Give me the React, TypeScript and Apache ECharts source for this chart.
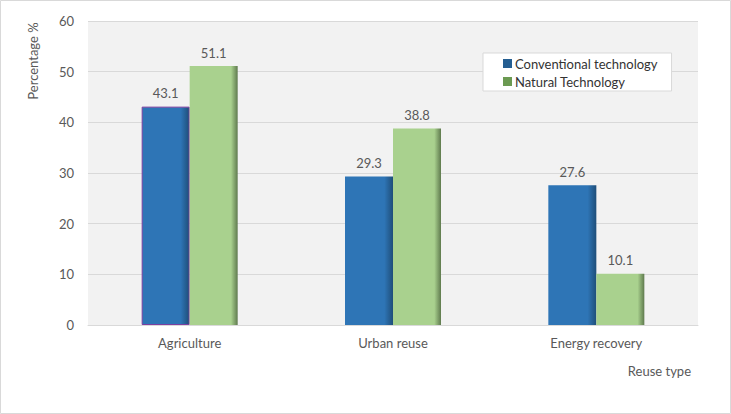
import React, { useEffect, useRef } from "react";
import * as echarts from "echarts";

const categories = ["Agriculture", "Urban reuse", "Energy recovery"];
const conventional = [43.1, 29.3, 27.6];
const natural = [51.1, 38.8, 10.1];
const seriesNames = ["Conventional technology", "Natural Technology"];
const yTicks = { min: 0, max: 60, interval: 10 };

const FONT = "Lato, 'Noto Sans', sans-serif";
const TXT = "#595959";

export default function App() {
  const ref = useRef<HTMLDivElement>(null);
  useEffect(() => {
    if (!ref.current) return;
    const chart = echarts.init(ref.current, undefined, { renderer: "svg" });
    const blueGrad = new echarts.graphic.LinearGradient(0, 0, 1, 0, [
      { offset: 0, color: "#2E75B6" },
      { offset: 0.82, color: "#2E75B6" },
      { offset: 1, color: "#1F4E79" },
    ]);
    const greenGrad = new echarts.graphic.LinearGradient(0, 0, 1, 0, [
      { offset: 0, color: "#A9D18E" },
      { offset: 0.86, color: "#A9D18E" },
      { offset: 1, color: "#5F7A4E" },
    ]);
    const label = {
      show: true,
      position: "top",
      distance: 7,
      color: TXT,
      fontSize: 13,
      fontFamily: FONT,
      formatter: (p: any) => Number(p.value).toFixed(1),
    };
    chart.setOption({
      animation: false,
      backgroundColor: "#fff",
      textStyle: { fontFamily: FONT },
      grid: { left: 88, right: 33, top: 21, bottom: 89, show: true, backgroundColor: "#F2F2F2", borderWidth: 0 },
      legend: {
        orient: "vertical",
        left: 483,
        top: 53,
        backgroundColor: "#fff",
        borderColor: "#D9D9D9",
        borderWidth: 1,
        padding: [4, 14, 3, 20],
        itemWidth: 9,
        itemHeight: 9,
        itemGap: 5,
        icon: "rect",
        textStyle: { color: "#333", fontSize: 13, fontFamily: FONT, padding: [0, 0, 0, -2] },
        data: [
          { name: seriesNames[0], itemStyle: { color: "#255E91" } },
          { name: seriesNames[1], itemStyle: { color: "#6B9A52" } },
        ],
      },
      xAxis: {
        type: "category",
        data: categories,
        axisLine: { lineStyle: { color: "#D9D9D9" } },
        axisTick: { show: false },
        axisLabel: { color: TXT, fontSize: 13, fontFamily: FONT, margin: 11 },
      },
      yAxis: {
        type: "value",
        min: yTicks.min,
        max: yTicks.max,
        interval: yTicks.interval,
        axisLine: { show: false },
        axisTick: { show: false },
        splitLine: { lineStyle: { color: "#D9D9D9" } },
        axisLabel: { color: TXT, fontSize: 13, fontFamily: FONT, margin: 14 },
      },
      graphic: [
        {
          type: "rect",
          shape: { x: 0.5, y: 0.5, width: 730, height: 413 },
          style: { fill: "none", stroke: "#D9D9D9", lineWidth: 1 },
          silent: true,
        },
        {
          type: "text",
          x: 33,
          y: 61,
          rotation: Math.PI / 2,
          style: {
            text: "Percentage %",
            fill: TXT,
            fontSize: 13,
            fontFamily: FONT,
            align: "center",
            verticalAlign: "middle",
          },
        },
        {
          type: "text",
          x: 691,
          y: 371,
          style: {
            text: "Reuse type",
            fill: TXT,
            fontSize: 13,
            fontFamily: FONT,
            align: "right",
            verticalAlign: "middle",
          },
        },
      ],
      series: [
        {
          name: seriesNames[0],
          type: "bar",
          barWidth: 48,
          barGap: "0%",
          itemStyle: { color: blueGrad },
          label,
          data: conventional.map((v, i) =>
            i === 0 ? { value: v, itemStyle: { borderColor: "#7B3FA0", borderWidth: 1 } } : v
          ),
        },
        {
          name: seriesNames[1],
          type: "bar",
          barWidth: 48,
          barGap: "0%",
          itemStyle: { color: greenGrad },
          label,
          data: natural,
        },
      ],
    });
    return () => chart.dispose();
  }, []);
  return <div ref={ref} style={{ position: "absolute", left: 0, top: 0, width: 731, height: 414 }} />;
}
